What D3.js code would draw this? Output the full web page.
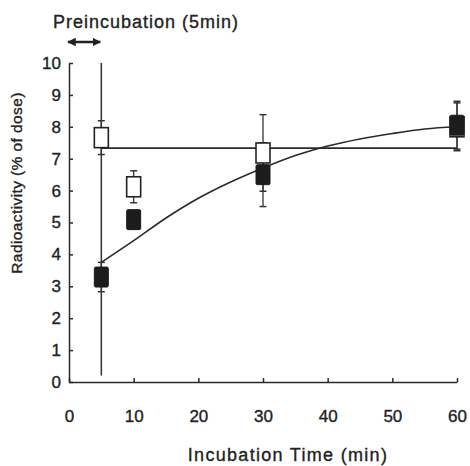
<!DOCTYPE html>
<html>
<head>
<meta charset="utf-8">
<script src="https://cdn.jsdelivr.net/npm/d3@7"></script>
<style>
  body { margin: 0; background: #fff; }
  svg { display: block; font-family: "Liberation Sans", Arial, sans-serif; }
  .axis path, .axis line { stroke: #2a2a2a; stroke-width: 1.5; }
  .axis text { fill: #222; font-size: 17px; stroke: #222; stroke-width: 0.35; }
  .label { fill: #222; stroke: #222; stroke-width: 0.35; }
</style>
</head>
<body>
<svg id="chart" width="470" height="466"></svg>
<script>
// Time points (min)
const times = [5, 10, 30, 60]

// Open squares: mean and error
const openMean = [7.66, 6.12, 7.18, 8.0]
const openErr = [0.53, 0.5, 1.2, 0.75]

// Filled squares: mean and error
const filledMean = [3.29, 5.09, 6.5, 8.05]
const filledErr = [0.46, 0.25, 1.0, 0.75]

// Fitted lines
const openFitTime = [5, 60]
const openFitValue = [7.33, 7.33]
const filledFitTime = [5, 10, 15, 20, 25, 30, 35, 40, 45, 50, 55, 60]
const filledFitValue = [3.75, 4.43, 5.14, 5.76, 6.27, 6.71, 7.1, 7.4, 7.62, 7.79, 7.93, 8.0]

// Preincubation period marker
const preincRange = [0, 5]
const preincLineY = [0.2, 10]

const xTicks = [0, 10, 20, 30, 40, 50, 60]
const yTicks = [0, 1, 2, 3, 4, 5, 6, 7, 8, 9, 10]

const svg = d3.select('#chart')
const ink = '#222'

const x = d3.scaleLinear().domain([0, 60]).range([69, 457])
const y = d3.scaleLinear().domain([0, 10]).range([382, 63])

// axes, ticks pointing inward
svg.append('g')
  .attr('class', 'axis')
  .attr('transform', `translate(0,${y(0)})`)
  .call(d3.axisBottom(x).tickValues(xTicks).tickSizeInner(-4).tickSizeOuter(0).tickPadding(28))

svg.append('g')
  .attr('class', 'axis')
  .attr('transform', `translate(${x(0)},0)`)
  .call(d3.axisLeft(y).tickValues(yTicks).tickSizeInner(-4).tickSizeOuter(0).tickPadding(8))

// axis titles
svg.append('text')
  .attr('class', 'label')
  .attr('x', 288).attr('y', 461)
  .attr('text-anchor', 'middle')
  .attr('font-size', 18).attr('letter-spacing', 1.3)
  .text('Incubation Time (min)')

svg.append('text')
  .attr('class', 'label')
  .attr('transform', 'translate(22,183) rotate(-90)')
  .attr('text-anchor', 'middle')
  .attr('font-size', 15.5).attr('letter-spacing', 0.4)
  .text('Radioactivity (% of dose)')

// preincubation label + arrow
svg.append('text')
  .attr('class', 'label')
  .attr('x', 53).attr('y', 28)
  .attr('font-size', 18).attr('letter-spacing', 1)
  .text('Preincubation (5min)')

const defs = svg.append('defs')
defs.append('marker')
  .attr('id', 'head')
  .attr('viewBox', '0 0 10 10')
  .attr('refX', 9).attr('refY', 5)
  .attr('markerWidth', 3.6).attr('markerHeight', 3.6)
  .attr('orient', 'auto-start-reverse')
  .append('path')
  .attr('d', 'M0,0L10,5L0,10Z')
  .attr('fill', ink)

svg.append('line')
  .attr('x1', x(preincRange[0]) - 1).attr('x2', x(preincRange[1]) - 1)
  .attr('y1', 42).attr('y2', 42)
  .attr('stroke', ink).attr('stroke-width', 2.4)
  .attr('marker-start', 'url(#head)')
  .attr('marker-end', 'url(#head)')

// vertical line at end of preincubation
svg.append('line')
  .attr('x1', x(preincRange[1])).attr('x2', x(preincRange[1]))
  .attr('y1', y(preincLineY[0])).attr('y2', y(preincLineY[1]))
  .attr('stroke', '#333').attr('stroke-width', 1.5)

// fitted lines
const line = d3.line()
  .x(d => x(d[0]))
  .y(d => y(d[1]))

svg.append('path')
  .datum(d3.zip(openFitTime, openFitValue))
  .attr('d', line)
  .attr('fill', 'none').attr('stroke', '#2a2a2a').attr('stroke-width', 1.6)

svg.append('path')
  .datum(d3.zip(filledFitTime, filledFitValue))
  .attr('d', line.curve(d3.curveMonotoneX))
  .attr('fill', 'none').attr('stroke', '#2a2a2a').attr('stroke-width', 1.6)

// error bars
function errorBars (means, errs, cls) {
  const g = svg.append('g').attr('class', cls)
  times.forEach((t, i) => {
    const lo = y(means[i] - errs[i])
    const hi = y(means[i] + errs[i])
    g.append('line')
      .attr('x1', x(t)).attr('x2', x(t)).attr('y1', lo).attr('y2', hi)
      .attr('stroke', '#333').attr('stroke-width', 1.3)
    ;[lo, hi].forEach(v => {
      g.append('line')
        .attr('x1', x(t) - 3.5).attr('x2', x(t) + 3.5).attr('y1', v).attr('y2', v)
        .attr('stroke', '#333').attr('stroke-width', 1.5)
    })
  })
}
errorBars(openMean, openErr, 'open-err')
errorBars(filledMean, filledErr, 'filled-err')

// squares
const w = 14
const h = 20
svg.append('g').selectAll('rect')
  .data(d3.zip(times, openMean))
  .join('rect')
  .attr('x', d => x(d[0]) - w / 2)
  .attr('y', d => y(d[1]) - h / 2)
  .attr('width', w).attr('height', h)
  .attr('fill', '#fff').attr('stroke', '#222').attr('stroke-width', 1.6)

svg.append('g').selectAll('rect')
  .data(d3.zip(times, filledMean))
  .join('rect')
  .attr('x', d => x(d[0]) - w / 2)
  .attr('y', d => y(d[1]) - h / 2)
  .attr('width', w).attr('height', h)
  .attr('rx', 1.5)
  .attr('fill', '#1c1c1c').attr('stroke', '#1c1c1c').attr('stroke-width', 1)
</script>
</body>
</html>
